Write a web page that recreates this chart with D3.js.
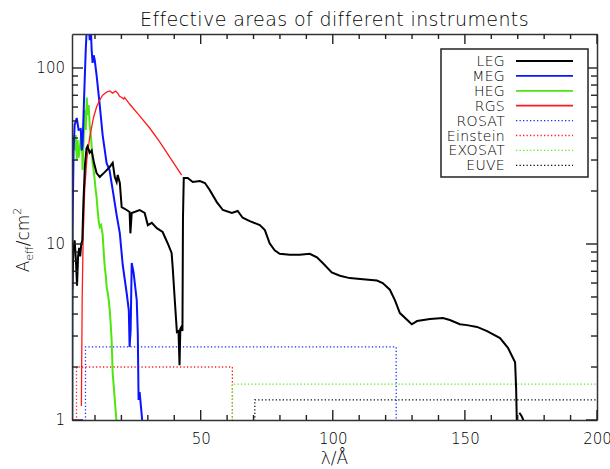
<!DOCTYPE html>
<html>
<head>
<meta charset="utf-8">
<script src="https://d3js.org/d3.v7.min.js"></script>
<style>
  body { margin: 0; background: #fff; }
  text { font-family: "DejaVu Sans", sans-serif; font-weight: 300; fill: #000; }
</style>
</head>
<body>
<script>
// effective area curves: [wavelength (A), area (cm^2)]
var legPoints = [[1.4,5.5],[1.8,9],[2.3,10.5],[2.8,8],[3.2,5.8],[3.6,8.5],[4.0,9.5],[4.4,8.5],[4.8,10],[5.2,10.5],
  [5.6,17],[6.2,28],[6.8,35],[7.2,36],[8.0,33],[8.75,34],[9.6,29],[10.6,25.3],[11.8,24],[13.7,25.6],[15.6,27.4],
  [16.7,28.9],[17.5,24],[18.2,22.5],[18.6,24.7],[19.4,22.2],[20.1,16.2],[22,15.6],[23.1,15.2],[23.4,11.5],
  [23.9,15],[26.9,15.6],[28.8,15],[30,12.8],[31.5,13.2],[33.4,12.3],[35.6,11.7],[37.5,10.1],[39,8.9],[39.4,7.4],
  [40.2,4.8],[41,3.16],[41.6,3.2],[42.0,2.05],[42.3,3.3],[42.8,3.4],[43.1,3.2],[43.3,14],[43.6,23.7],[45.1,23.7],
  [47,22.5],[49.7,22.8],[51.6,22.2],[53.4,20.3],[56.1,17.3],[58.4,15.6],[61.8,15],[64,15.4],[65.9,14.1],
  [68.6,13.5],[72.4,12.8],[74.3,12],[76.1,10.1],[78,9.2],[79.9,8.8],[83.7,8.7],[87.5,8.7],[91.3,8.8],[94,8.4],
  [96.2,7.8],[99.6,6.9],[102.7,6.6],[106.4,6.4],[111.4,6.3],[116.7,6.2],[118.9,6.0],[121.6,5.5],[123.5,4.8],
  [125.4,4.05],[129.9,3.5],[131.9,3.65],[136.8,3.75],[141.7,3.8],[144.3,3.7],[148.1,3.5],[150.8,3.46],
  [154.6,3.38],[158.4,3.2],[163.3,2.92],[166.3,2.57],[169,2.13],[169.4,1.5],[169.7,0.9]];
var legTail = [[170.6,1.1],[171.5,1.05],[173.4,0.9]];

var megPoints = [[1.36,1],[1.5,12],[1.9,34],[2.3,47.5],[3.1,52],[3.8,44.5],[4.6,45],[5.0,34],[5.3,36.6],
  [6.1,85],[6.5,126],[6.9,170],[7.6,180],[8.0,144],[8.4,170],[8.75,126],[9.1,107],[9.5,118],[9.9,111],
  [10.6,91],[11.8,61.6],[12.9,41.6],[14.4,28.8],[15.5,26.3],[16.7,20.3],[18.2,14.6],[19.4,11.5],[20.5,7.6],
  [22,5.25],[22.8,4.2],[23.1,2.6],[23.5,3.25],[23.9,7.8],[24.6,6.9],[25.8,4.8],[26.2,3.1],[26.5,1.3],
  [26.9,1.44],[28,0.95]];

var hegPoints = [[1.36,1],[1.4,3.2],[1.55,30],[1.9,41.6],[2.3,34],[2.7,41.6],[3.1,30],[3.4,39],[3.8,31],
  [4.2,34],[4.6,40],[5.0,44.5],[5.3,26.3],[5.7,39],[6.1,57.7],[6.5,44.5],[6.9,68],[7.2,54],[7.6,61.6],
  [8.0,47.5],[8.4,42],[8.75,35.6],[9.1,28.9],[9.5,26],[9.9,23.1],[10.3,20],[10.6,18.5],[11.0,15.6],
  [11.4,13.5],[11.8,12.5],[12.3,12.8],[12.9,11.3],[13.3,9],[13.7,7.4],[14.1,6.6],[14.4,5.7],[14.8,5.3],
  [15.2,4.8],[15.6,4.2],[16.0,3.4],[16.3,2.85],[16.7,1.85],[17.1,1.55],[17.5,1.3],[18.2,0.95]];

var rgsPoints = [[4.85,1.2],[5.15,4.8],[5.5,10.5],[6.1,20.3],[6.9,30],[8.0,40.5],[9.5,52.7],[10.6,60],
  [11.8,65.8],[12.9,70],[14.4,73],[15.6,74],[16.7,72],[17.8,74],[18.6,72],[19.3,69],[20.1,68],[20.9,66.6],
  [21.2,68],[23.1,62.4],[26.9,53.4],[30.7,45.6],[34.5,38],[38.3,31.2],[42.8,24.6]];

// older instruments: band edges (A) and flat effective area (cm^2)
var instNames = ["ROSAT", "Einstein", "EXOSAT", "EUVE"];
var instLow = [6.4, 3.0, 62, 70.5];
var instHigh = [124, 62, 260, 260];
var instArea = [2.6, 2.0, 1.6, 1.3];

var legendNames = ["LEG", "MEG", "HEG", "RGS", "ROSAT", "Einstein", "EXOSAT", "EUVE"];
var legendColors = ["#000", "#0a14ff", "#4ee60f", "#ff1a1a", "#1a2aff", "#ff2020", "#55ee22", "#111"];
var instColors = ["#1a2aff", "#ff2020", "#55ee22", "#111"];

var xMajor = [50, 100, 150, 200];
var xMinor = [10, 20, 30, 40, 60, 70, 80, 90, 110, 120, 130, 140, 160, 170, 180, 190];
var yMajor = [1, 10, 100];
var yMinor = [2, 3, 4, 5, 6, 7, 8, 9, 20, 30, 40, 50, 60, 70, 80, 90];

var width = 610, height = 469;
var pL = 72, pR = 597, pT = 34, pB = 420;

var svg = d3.select("body").append("svg")
  .attr("width", width)
  .attr("height", height);

svg.append("rect").attr("width", width).attr("height", height).attr("fill", "#fff");

var x = d3.scaleLinear().domain([1.3, 200]).range([pL, pR]);
var y = d3.scaleLog().domain([1, 156]).range([pB, pT]);

svg.append("clipPath").attr("id", "plotclip")
  .append("rect")
  .attr("x", pL).attr("y", pT)
  .attr("width", pR - pL).attr("height", pB - pT);

var plot = svg.append("g").attr("clip-path", "url(#plotclip)");

var line = d3.line()
  .x(function (d) { return x(d[0]); })
  .y(function (d) { return y(d[1]); });

// dotted boxes for the older instruments
instNames.forEach(function (name, i) {
  var pts = [[instLow[i], 0.9], [instLow[i], instArea[i]], [instHigh[i], instArea[i]], [instHigh[i], 0.9]];
  plot.append("path")
    .attr("d", line(pts))
    .attr("fill", "none")
    .attr("stroke", instColors[i])
    .attr("stroke-width", 1.3)
    .attr("stroke-dasharray", "1.3,2.2");
});

plot.append("path").attr("d", line(hegPoints))
  .attr("fill", "none").attr("stroke", "#4ee60f").attr("stroke-width", 2);
plot.append("path").attr("d", line(megPoints))
  .attr("fill", "none").attr("stroke", "#0a14ff").attr("stroke-width", 2);
plot.append("path").attr("d", line(rgsPoints))
  .attr("fill", "none").attr("stroke", "#ff1a1a").attr("stroke-width", 1.3);
plot.append("path").attr("d", line(legPoints))
  .attr("fill", "none").attr("stroke", "#000").attr("stroke-width", 2);
plot.append("path").attr("d", line(legTail))
  .attr("fill", "none").attr("stroke", "#000").attr("stroke-width", 2);

// axes: d3 axes give the frame and the labels
function styleAxis(g) {
  g.selectAll("path").attr("stroke", "#333").attr("stroke-width", 1.5);
  g.selectAll("text").attr("font-size", "15px").attr("fill", "#000")
    .style("font-family", "DejaVu Sans, sans-serif").style("font-weight", 300);
}

svg.append("g").attr("transform", "translate(0," + pB + ")")
  .call(d3.axisBottom(x).tickValues(xMajor).tickSize(0).tickPadding(13))
  .call(styleAxis);
svg.append("g").attr("transform", "translate(0," + pT + ")")
  .call(d3.axisTop(x).tickValues([]).tickSize(0))
  .call(styleAxis);
svg.append("g").attr("transform", "translate(" + pL + ",0)")
  .call(d3.axisLeft(y).tickValues(yMajor).tickSize(0).tickPadding(7).tickFormat(d3.format("d")))
  .call(styleAxis);
svg.append("g").attr("transform", "translate(" + pR + ",0)")
  .call(d3.axisRight(y).tickValues([]).tickSize(0))
  .call(styleAxis);

// inward tick marks on all four sides
var ticks = svg.append("g").attr("stroke", "#222").attr("stroke-width", 1.4);
function xTicks(vals, len) {
  [[pB, -len], [pT, len]].forEach(function (side) {
    ticks.selectAll(null).data(vals).enter().append("line")
      .attr("x1", function (d) { return x(d); }).attr("x2", function (d) { return x(d); })
      .attr("y1", side[0]).attr("y2", side[0] + side[1]);
  });
}
function yTicks(vals, len) {
  [[pL, len], [pR, -len]].forEach(function (side) {
    ticks.selectAll(null).data(vals).enter().append("line")
      .attr("y1", function (d) { return y(d); }).attr("y2", function (d) { return y(d); })
      .attr("x1", side[0]).attr("x2", side[0] + side[1]);
  });
}
xTicks(xMajor, 10);
xTicks(xMinor, 5);
yTicks(yMajor, 11);
yTicks(yMinor, 6);

// title and axis labels
svg.append("text")
  .attr("x", (pL + pR) / 2).attr("y", 26)
  .attr("text-anchor", "middle")
  .attr("font-size", "19px")
  .attr("letter-spacing", "0.4px")
  .text("Effective areas of different instruments");

svg.append("text")
  .attr("x", (pL + pR) / 2).attr("y", 464)
  .attr("text-anchor", "middle")
  .attr("font-size", "17px")
  .text("λ/Å");

var ylab = svg.append("text")
  .attr("transform", "translate(29,240) rotate(-90)")
  .attr("text-anchor", "middle")
  .attr("font-size", "17px");
ylab.append("tspan").text("A");
ylab.append("tspan").attr("font-size", "11px").attr("dy", 4).text("eff");
ylab.append("tspan").attr("dy", -4).text("/cm");
ylab.append("tspan").attr("font-size", "11px").attr("dy", -8).text("2");

// legend
var legend = svg.append("g");
legend.append("rect")
  .attr("x", 441).attr("y", 49).attr("width", 147).attr("height", 128)
  .attr("fill", "#fff").attr("stroke", "#222").attr("stroke-width", 1.5);

legendNames.forEach(function (name, i) {
  var ly = 61 + i * 14.9;
  legend.append("text")
    .attr("x", 505).attr("y", ly)
    .attr("dy", "0.36em")
    .attr("text-anchor", "end")
    .attr("font-size", "14px")
    .attr("letter-spacing", "0.3px")
    .text(name);
  legend.append("line")
    .attr("x1", 516).attr("x2", 573)
    .attr("y1", ly).attr("y2", ly)
    .attr("stroke", legendColors[i])
    .attr("stroke-width", i < 4 ? 1.8 : 1.3)
    .attr("stroke-dasharray", i < 4 ? null : "1.3,2.2");
});
</script>
</body>
</html>
